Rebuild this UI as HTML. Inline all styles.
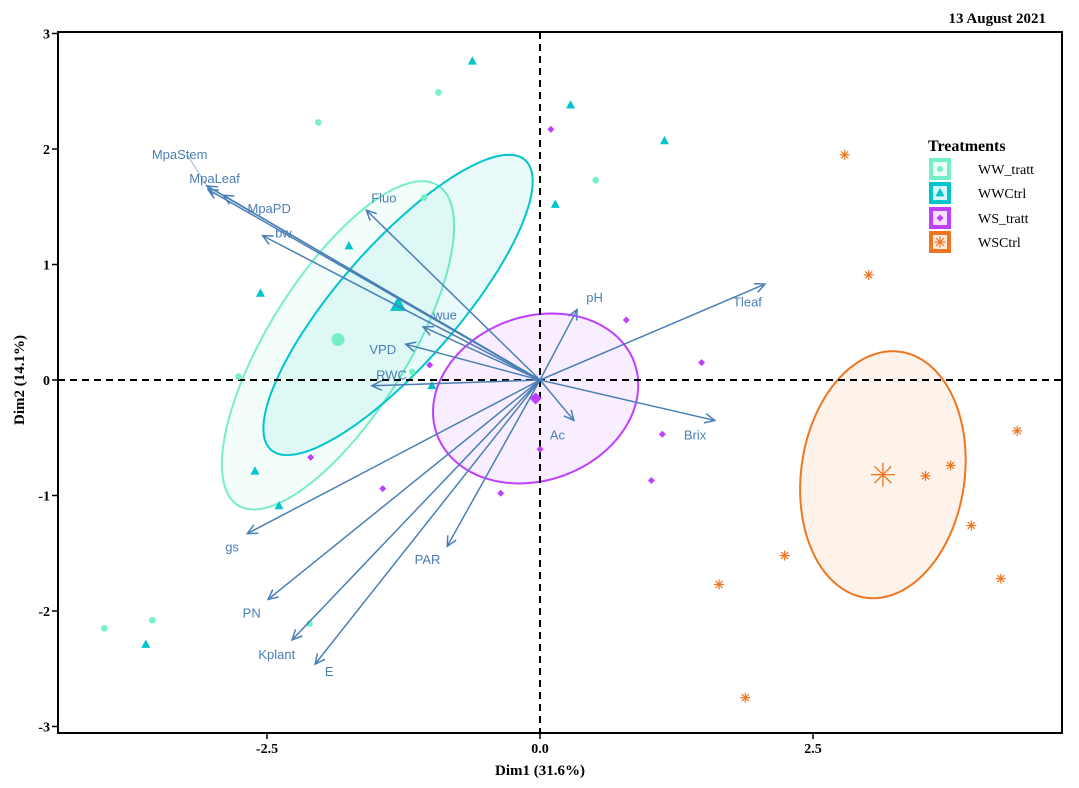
<!DOCTYPE html>
<html><head><meta charset="utf-8"><style>
body{margin:0;background:#fff;}
svg{display:block;}
.ser{font-family:"Liberation Serif",serif;}
.lab{font-family:"Liberation Sans",sans-serif;font-size:13px;fill:#4a7fb5;}
</style></head><body>
<svg id="chart" width="1079" height="788">
<text x="1046" y="23" text-anchor="end" class="ser" font-weight="bold" font-size="15">13 August 2021</text>
<g id="plot"></g>
<rect x="58" y="32" width="1004" height="701" fill="none" stroke="#000" stroke-width="2"/>
<text x="540" y="775" text-anchor="middle" class="ser" font-weight="bold" font-size="15">Dim1 (31.6%)</text>
<text transform="translate(24,380) rotate(-90)" text-anchor="middle" class="ser" font-weight="bold" font-size="15">Dim2 (14.1%)</text>
<g id="legend">
<text x="928" y="151" class="ser" font-weight="bold" font-size="16">Treatments</text>
</g>
</svg>
<script>
const groups = ["WW_tratt","WWCtrl","WS_tratt","WSCtrl"];
const colors = ["#76eec6","#00c5cd","#bf3eff","#ee7621"];
const wwTrattX = [-2.03,-0.93,0.51,-1.06,-2.76,-1.17,-3.99,-3.55,-2.11];
const wwTrattY = [2.23,2.49,1.73,1.58,0.03,0.07,-2.15,-2.08,-2.11];
const wwCtrlX = [-0.62,0.28,1.14,0.14,-1.75,-2.56,-0.99,-2.61,-2.39,-3.61];
const wwCtrlY = [2.76,2.38,2.07,1.52,1.16,0.75,-0.05,-0.79,-1.09,-2.29];
const wsTrattX = [0.10,0.79,1.48,-1.01,1.12,1.02,0.0,-0.36,-1.44,-2.10];
const wsTrattY = [2.17,0.52,0.15,0.13,-0.47,-0.87,-0.60,-0.98,-0.94,-0.67];
const wsCtrlX = [2.79,3.01,4.37,3.76,3.53,3.95,4.22,2.24,1.64,1.88];
const wsCtrlY = [1.95,0.91,-0.44,-0.74,-0.83,-1.26,-1.72,-1.52,-1.77,-2.75];
const meanX = [-1.85,-1.30,-0.04,3.14];
const meanY = [0.35,0.65,-0.16,-0.82];
const ellCx = [-1.85,-1.30,-0.04,3.14];
const ellCy = [0.30,0.65,-0.16,-0.82];
const ellAx = [0.916,1.163,0.904,0.156];
const ellAy = [1.385,1.255,0.311,1.065];
const ellBx = [0.54,0.41,0.257,0.742];
const ellBy = [-0.32,-0.34,-0.667,-0.095];
const varNames = ["MpaStem","MpaLeaf","MpaPD","bw","Fluo","wue","VPD","RWC","gs","PN","Kplant","E","PAR","Ac","pH","Tleaf","Brix"];
const varX = [-3.05,-3.04,-2.90,-2.54,-1.59,-1.07,-1.23,-1.54,-2.68,-2.49,-2.27,-2.06,-0.85,0.31,0.34,2.06,1.60];
const varY = [1.68,1.65,1.60,1.25,1.47,0.46,0.31,-0.05,-1.33,-1.90,-2.25,-2.46,-1.44,-0.35,0.61,0.83,-0.35];
const labX = [-3.30,-2.98,-2.48,-2.35,-1.43,-0.87,-1.44,-1.36,-2.82,-2.64,-2.41,-1.93,-1.03,0.16,0.50,1.90,1.42];
const labY = [1.95,1.74,1.48,1.27,1.57,0.56,0.26,0.04,-1.45,-2.02,-2.38,-2.53,-1.56,-0.48,0.71,0.67,-0.48];
const xTicks = [-2.5,0,2.5];
const xTickLabels = ["-2.5","0.0","2.5"];
const yTicks = [-3,-2,-1,0,1,2,3];

const X = v => 540 + v*109.2;
const Y = v => 380 - v*115.5;
const NS="http://www.w3.org/2000/svg";
const plot=document.getElementById('plot');
function mk(tag,attrs,parent){const e=document.createElementNS(NS,tag);for(const k in attrs)e.setAttribute(k,attrs[k]);(parent||plot).appendChild(e);return e;}

const fills=["#76eec6","#00c5cd","#bf3eff","#ee7621"];
for(let g=0;g<4;g++){
  let d="";
  for(let i=0;i<=100;i++){const t=i/100*2*Math.PI;
    const x=ellCx[g]+ellAx[g]*Math.cos(t)+ellBx[g]*Math.sin(t);
    const y=ellCy[g]+ellAy[g]*Math.cos(t)+ellBy[g]*Math.sin(t);
    d+=(i?"L":"M")+X(x).toFixed(1)+","+Y(y).toFixed(1);}
  const e=mk('path',{d:d+"Z",fill:fills[g],'fill-opacity':0.09,stroke:colors[g],'stroke-width':2});
  
  
}
let zl=mk('line',{x1:58,x2:1062,y1:Y(0),y2:Y(0),stroke:'#000','stroke-width':2,'stroke-dasharray':'7,5'});


zl=mk('line',{x1:X(0),x2:X(0),y1:32,y2:733,stroke:'#000','stroke-width':2,'stroke-dasharray':'7,5'});



function marker(type,cx,cy,s,col,parent){
  if(type===0){return mk('circle',{cx,cy,r:s,fill:col},parent);}
  if(type===1){return mk('polygon',{points:`${cx},${cy-s*1.1} ${cx-s},${cy+s*0.75} ${cx+s},${cy+s*0.75}`,fill:col},parent);}
  if(type===2){return mk('polygon',{points:`${cx},${cy-s} ${cx+s},${cy} ${cx},${cy+s} ${cx-s},${cy}`,fill:col},parent);}
  const gg=mk('g',{stroke:col,'stroke-width':s>6?1.3:1.2},parent);
  for(let a=0;a<4;a++){const an=a*Math.PI/4;mk('line',{x1:cx-s*Math.cos(an),y1:cy-s*Math.sin(an),x2:cx+s*Math.cos(an),y2:cy+s*Math.sin(an)},gg);}
  return gg;
}
const gx=[wwTrattX,wwCtrlX,wsTrattX,wsCtrlX], gy=[wwTrattY,wwCtrlY,wsTrattY,wsCtrlY];
const sizes=[3.3,4.5,3.5,5];
for(let g=0;g<4;g++){
  for(let i=0;i<gx[g].length;i++){
    const m=marker(g,X(gx[g][i]),Y(gy[g][i]),sizes[g],colors[g]);
    
    
  }
  const mm=marker(g,X(meanX[g]),Y(meanY[g]),[6.5,8,6,12][g],colors[g]);
  
  
}

const ac="#4a7fb5";
for(let i=0;i<varNames.length;i++){
  const x0=X(0),y0=Y(0),x1=X(varX[i]),y1=Y(varY[i]);
  const g=mk('g',{stroke:ac,'stroke-width':1.5,fill:'none'});
  
  
  mk('line',{x1:x0,y1:y0,x2:x1,y2:y1},g);
  const ang=Math.atan2(y1-y0,x1-x0),L=11,w=0.45;
  mk('polyline',{points:`${x1-L*Math.cos(ang-w)},${y1-L*Math.sin(ang-w)} ${x1},${y1} ${x1-L*Math.cos(ang+w)},${y1-L*Math.sin(ang+w)}`},g);
  const t=mk('text',{x:X(labX[i]),y:Y(labY[i])+4,'text-anchor':'middle',class:'lab'});
  t.textContent=varNames[i];
  
  
}
let seg=mk('line',{x1:188,y1:156,x2:207,y2:186,stroke:ac,'stroke-width':0.6});



const svg=document.getElementById('chart');
for(let i=0;i<xTicks.length;i++){
  const x=X(xTicks[i]);
  const tk=mk('line',{x1:x,x2:x,y1:733,y2:739,stroke:'#000','stroke-width':1.5},svg);
  
  
  const t=mk('text',{x:x,y:753,'text-anchor':'middle',class:'ser','font-weight':'bold','font-size':14},svg);
  t.textContent=xTickLabels[i];
  
  
}
for(let i=0;i<yTicks.length;i++){
  const y=Y(yTicks[i]);
  const tk=mk('line',{x1:52,x2:58,y1:y,y2:y,stroke:'#000','stroke-width':1.5},svg);
  
  
  const t=mk('text',{x:50,y:y+5,'text-anchor':'end',class:'ser','font-weight':'bold','font-size':14},svg);
  t.textContent=String(yTicks[i]);
  
  
}

const leg=document.getElementById('legend');
const rowY=[158,182,207,231];
for(let g=0;g<4;g++){
  const r=mk('rect',{x:929,y:rowY[g],width:22,height:22,fill:colors[g]},leg);
  
  
  mk('rect',{x:933,y:rowY[g]+4,width:14,height:14,fill:'#fff','fill-opacity':0.85},leg);
  marker(g,940,rowY[g]+11,[3,4.5,3.5,5.5][g],colors[g],leg);
  const t=mk('text',{x:978,y:rowY[g]+16,class:'ser','font-size':14},leg);
  t.textContent=groups[g];
  
  
}
</script>
</body></html>
